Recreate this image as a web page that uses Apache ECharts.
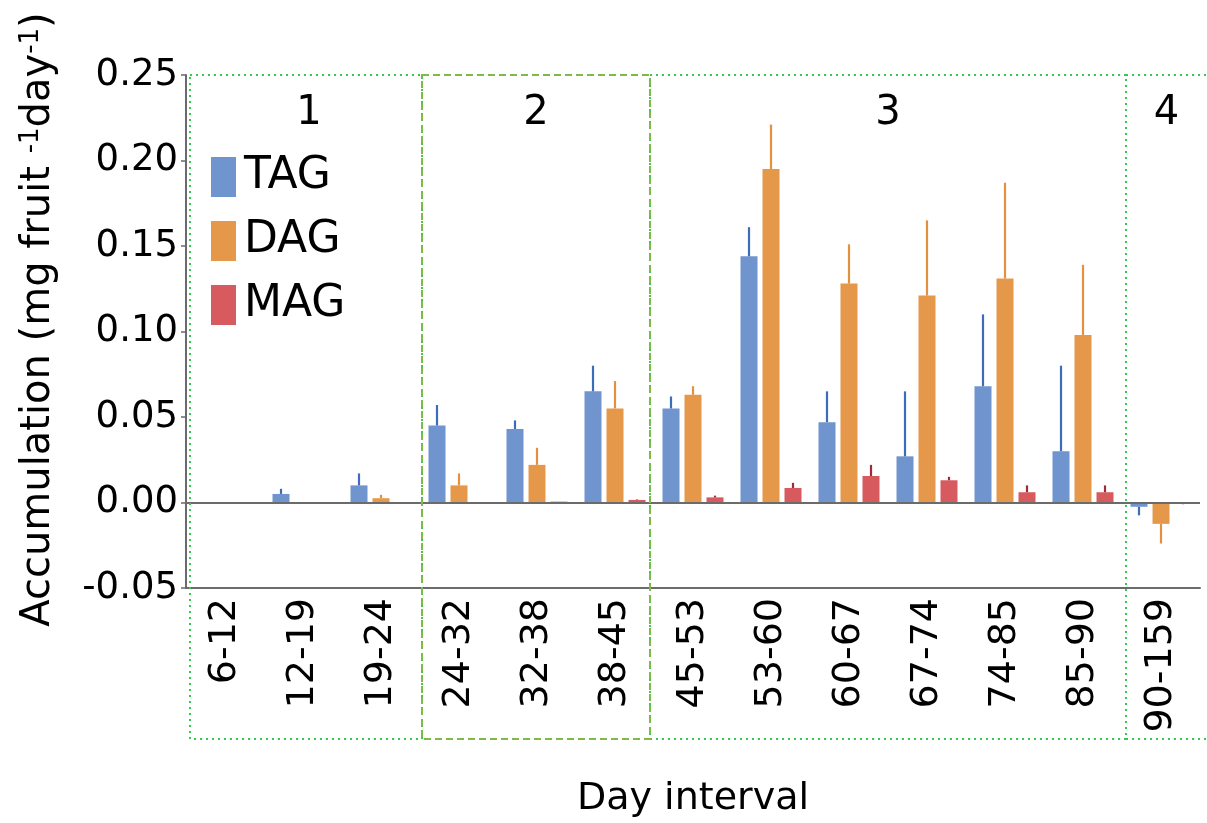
<!DOCTYPE html>
<html>
<head>
<meta charset="utf-8">
<script src="https://cdn.jsdelivr.net/npm/echarts@6/dist/echarts.min.js"></script>
<style>
html,body{margin:0;padding:0;background:#fff;}
#chart{width:1207px;height:823px;}
</style>
</head>
<body>
<div id="chart"></div>
<script>
// ---- data ----
const categories = ['6-12','12-19','19-24','24-32','32-38','38-45','45-53','53-60','60-67','67-74','74-85','85-90','90-159'];
const tagValues = [0, 0.005, 0.010, 0.045, 0.043, 0.065, 0.055, 0.144, 0.047, 0.027, 0.068, 0.030, -0.0025];
const tagErrors = [0, 0.003, 0.007, 0.012, 0.005, 0.015, 0.007, 0.017, 0.018, 0.038, 0.042, 0.050, 0.005];
const dagValues = [0, 0, 0.0025, 0.010, 0.022, 0.055, 0.063, 0.195, 0.128, 0.121, 0.131, 0.098, -0.0125];
const dagErrors = [0, 0, 0.002, 0.007, 0.010, 0.016, 0.005, 0.026, 0.023, 0.044, 0.056, 0.041, 0.0115];
const magValues = [0, 0, 0, 0, 0.0005, 0.0015, 0.003, 0.0085, 0.0155, 0.013, 0.006, 0.006, -0.0005];
const magErrors = [0, 0, 0, 0, 0, 0.0003, 0.001, 0.003, 0.0065, 0.002, 0.004, 0.004, 0.0005];
const seriesNames = ['TAG', 'DAG', 'MAG'];
const yTicks = [-0.05, 0.25, 0.05]; // min, max, interval
const groupLabels = ['1', '2', '3', '4'];
const groupFirstCategory = [0, 3, 6, 12];

// ---- styles ----
const FONT = 'DejaVu Sans';
const barColors = ['#7094cd', '#e5984a', '#d65a5e'];
const errColors = ['#3d6cb9', '#e3913f', '#9e2b35'];
const BAR_W = 17, BAR_GAP = 5;
const offsets = [-(BAR_W + BAR_GAP), 0, (BAR_W + BAR_GAP)];

const chart = echarts.init(document.getElementById('chart'), null, {renderer: 'canvas'});

const values = [tagValues, dagValues, magValues];
const errors = [tagErrors, dagErrors, magErrors];

function errSeries(k) {
  return {
    type: 'custom',
    name: seriesNames[k] + ' err',
    z: 3,
    silent: true,
    data: values[k].map((v, i) => [i, v, errors[k][i]]),
    encode: {x: 0, y: 1},
    renderItem: function (params, api) {
      const idx = api.value(0), v = api.value(1), e = api.value(2);
      if (!e) return null;
      const sign = v < 0 ? -1 : 1;
      const p0 = api.coord([idx, v]);
      const p1 = api.coord([idx, v + sign * e]);
      const x = p0[0] + offsets[k];
      return {
        type: 'line',
        shape: {x1: x, y1: p0[1], x2: x, y2: p1[1]},
        style: {stroke: errColors[k], lineWidth: 2.2}
      };
    }
  };
}

const barSeries = seriesNames.map((name, k) => ({
  type: 'bar',
  name: name,
  data: values[k],
  barWidth: BAR_W,
  barGap: (BAR_GAP / BAR_W * 100).toFixed(1) + '%',
  itemStyle: {color: barColors[k]},
  z: 2,
  markLine: k === 0 ? {
    silent: true,
    symbol: 'none',
    label: {show: false},
    lineStyle: {color: '#6b6b6b', width: 2, type: 'solid'},
    data: [{yAxis: 0}]
  } : undefined
}));

const option = {
  animation: false,
  backgroundColor: '#ffffff',
  grid: {left: 186, right: 7, top: 75, bottom: 235, containLabel: false},
  legend: {
    data: seriesNames,
    orient: 'vertical',
    left: 206,
    top: 150,
    icon: 'rect',
    itemWidth: 25,
    itemHeight: 40,
    itemGap: 20,
    textStyle: {fontFamily: FONT, fontSize: 44, color: '#000', padding: [0, 0, 0, 3]}
  },
  xAxis: {
    type: 'category',
    data: categories,
    position: 'bottom',
    axisLine: {onZero: false, lineStyle: {color: '#6b6b6b', width: 2}},
    axisTick: {alignWithLabel: true, length: 6, lineStyle: {color: '#6b6b6b', width: 1.5}},
    axisLabel: {rotate: 90, margin: 10, fontFamily: FONT, fontSize: 38, color: '#000', interval: 0},
    name: 'Day interval',
    nameLocation: 'middle',
    nameGap: 192,
    nameTextStyle: {fontFamily: FONT, fontSize: 38, color: '#000'}
  },
  yAxis: {
    type: 'value',
    min: yTicks[0],
    max: yTicks[1],
    interval: yTicks[2],
    axisLine: {show: true, lineStyle: {color: '#6b6b6b', width: 2}},
    axisTick: {show: true, length: 5, lineStyle: {color: '#6b6b6b', width: 1.5}},
    splitLine: {show: false},
    axisLabel: {
      margin: 8,
      fontFamily: FONT, fontSize: 37, color: '#000',
      formatter: v => v.toFixed(2)
    },
    name: 'Accumulation (mg fruit {sup|-1}day{sup|-1})',
    nameLocation: 'middle',
    nameRotate: 90,
    nameGap: 126,
    nameTextStyle: {
      fontFamily: FONT, fontSize: 40, color: '#000',
      padding: [0, 0, 0, 24],
      rich: {
        sup: {fontFamily: FONT, fontSize: 26, color: '#000', verticalAlign: 'top', padding: [0, 0, 16, 0]}
      }
    }
  },
  series: barSeries.concat([errSeries(0), errSeries(1), errSeries(2)])
};

chart.setOption(option);

function drawGroups() {
  const centers = categories.map(c => chart.convertToPixel({xAxisIndex: 0}, c));
  const step = centers[1] - centers[0];
  const topY = chart.convertToPixel({yAxisIndex: 0}, yTicks[1]);
  const axisBottom = chart.convertToPixel({yAxisIndex: 0}, yTicks[0]);
  const bottomY = axisBottom + 151;
  const edges = groupFirstCategory.map(i => centers[i] - step / 2);
  edges[0] += 4;
  edges[1] += 2;
  edges[2] -= 4;
  edges[3] += 4;
  const rightEdge = centers[centers.length - 1] + step / 2 + 12;
  const els = [];
  const dotted = {stroke: '#33c94a', lineWidth: 2, lineDash: [2, 4], fill: null};
  const dashed = {stroke: '#7dbb45', lineWidth: 2, lineDash: [7, 4], fill: null};
  for (let g = 0; g < groupLabels.length; g++) {
    const x0 = edges[g];
    const x1 = g + 1 < edges.length ? edges[g + 1] : rightEdge;
    els.push({
      type: 'rect', z: 10, silent: true,
      shape: {x: x0, y: topY, width: x1 - x0, height: bottomY - topY},
      style: g === 1 ? dashed : dotted
    });
    els.push({
      type: 'text', z: 11, silent: true,
      x: (x0 + Math.min(x1, 1207)) / 2 + (g === 0 ? 3 : 0), y: topY + 39,
      style: {text: groupLabels[g], fontFamily: FONT, fontSize: 40, fill: '#000', align: 'center', verticalAlign: 'middle'}
    });
  }
  // redraw the dashed box on top so its edges show dashed
  const d = els.splice(2, 2);
  els.push(d[0], d[1]);
  chart.setOption({graphic: {elements: els}});
}
drawGroups();
</script>
</body>
</html>
